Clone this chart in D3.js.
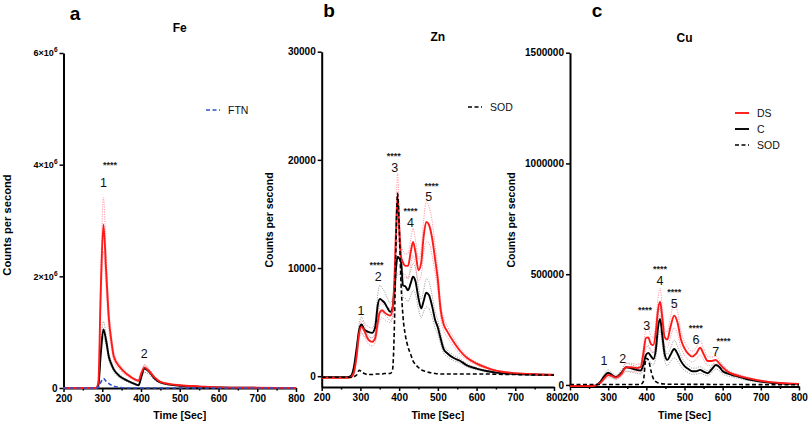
<!DOCTYPE html>
<html><head><meta charset="utf-8">
<script src="https://cdn.jsdelivr.net/npm/d3@7"></script>
<style>
body{margin:0;background:#fff;}
svg{font-family:"Liberation Sans", Arial, sans-serif;}
</style></head><body>
<svg id="chart" width="810" height="425"></svg>
<script>
// ---------- shared ticks ----------
const xTicks = [200, 300, 400, 500, 600, 700, 800];
const xMinorTicks = [250, 350, 450, 550, 650, 750];

// ---------- Panel a : Fe ----------
const timesA = [200,284,290,296,303,310,317,324,330,347,365,385,394,400,409,420,435,450,475,500,550,600,700,800];
const dsA    = [0,0,0.1e6,1.7e6,2.93e6,2.1e6,1.25e6,0.82e6,0.56e6,0.36e6,0.24e6,0.15e6,0.13e6,0.25e6,0.37e6,0.31e6,0.19e6,0.11e6,0.07e6,0.05e6,0.03e6,0.012e6,0.004e6,0];
const dsA_sd = [0,0,0.02e6,0.3e6,0.48e6,0.35e6,0.2e6,0.12e6,0.08e6,0.05e6,0.03e6,0.02e6,0.02e6,0.03e6,0.04e6,0.035e6,0.02e6,0.012e6,0.008e6,0.005e6,0.003e6,0.002e6,0,0];
const cA     = [0,0,0.05e6,0.6e6,1.05e6,0.85e6,0.56e6,0.42e6,0.33e6,0.2e6,0.13e6,0.07e6,0.05e6,0.18e6,0.35e6,0.3e6,0.17e6,0.1e6,0.06e6,0.04e6,0.02e6,0.01e6,0.003e6,0];
const cA_sd  = [0,0,0.01e6,0.1e6,0.14e6,0.1e6,0.07e6,0.05e6,0.04e6,0.03e6,0.02e6,0.01e6,0.01e6,0.03e6,0.07e6,0.05e6,0.03e6,0.015e6,0.01e6,0.005e6,0.003e6,0.002e6,0,0];
const ftnA   = [0,0,0.01e6,0.1e6,0.17e6,0.12e6,0.08e6,0.05e6,0.03e6,0.01e6,0,0,0,0,0,0,0,0,0,0,0,0,0,0];
const yTicksA = [0, 2e6, 4e6, 6e6];
const yTickLabelsA = ["0", "2×10^6", "4×10^6", "6×10^6"];
const annotA = [
  {text:"****", t:320, v:3.94e6, star:true},
  {text:"1", t:303, v:3.6e6},
  {text:"2", t:408.6, v:0.537e6}
];

// ---------- Panel b : Zn ----------
const timesB = [200,265,275,283,290,297,303,310,320,330,338,345,350,356,362,370,377,383,388,392,396,400,405,410,416,423,430,436,442,450,457,463,470,477,485,493,500,507,515,525,540,556,575,600,625,650,700,750,800];
const cB     = [-100,-100,0,800,2500,4300,4780,4300,4100,4000,4500,6600,7150,7000,6800,6300,5950,6300,8000,10000,11040,10900,10500,8400,8300,7950,8600,9190,8800,7200,6260,6900,7710,7500,6500,5200,4500,3500,2500,2100,1700,1450,1000,700,480,330,200,150,120];
const cB_sd  = [0,0,0,100,300,600,700,650,500,450,550,1000,1250,1150,1050,900,800,900,1100,1300,1500,1500,1400,1100,1100,1050,1150,1250,1200,1000,850,950,1300,1250,1000,750,650,500,350,300,250,200,150,100,80,60,40,30,30];
const dsB    = [-150,-150,-100,300,1800,4000,4560,4200,3400,3170,3500,5000,5900,6100,5900,5700,5600,6200,9000,13500,16590,13800,11000,10500,10200,10200,11500,12420,11500,9800,10500,12800,14270,14000,12800,10800,8880,6200,4800,4100,3200,2400,1700,1170,800,520,280,180,130];
const dsB_sd = [0,0,0,80,300,500,600,550,400,380,400,600,700,700,650,650,650,700,1100,1700,2200,1800,1200,1100,1100,1100,1200,1250,1150,1000,1200,1500,1850,1700,1600,1300,1000,700,600,500,400,300,200,150,100,60,40,30,20];
const sodB   = [-100,-100,-100,-50,100,550,400,250,150,150,200,200,200,200,250,250,250,600,5000,12500,16900,14000,8500,5500,3800,2700,2000,1400,1100,800,600,500,420,350,300,250,220,200,200,200,200,200,200,200,200,180,150,120,100];
const yTicksB = [0, 10000, 20000, 30000];
const yTickLabelsB = ["0", "10000", "20000", "30000"];
const annotB = [
  {text:"1", t:301.2, v:5686},
  {text:"****", t:341.6, v:10004, star:true},
  {text:"2", t:345.8, v:8765},
  {text:"****", t:386.2, v:20082, star:true},
  {text:"3", t:388.8, v:18843},
  {text:"****", t:429.2, v:14969, star:true},
  {text:"4", t:429.2, v:13757},
  {text:"****", t:483.3, v:17280, star:true},
  {text:"5", t:476.3, v:16226}
];

// ---------- Panel c : Cu ----------
const timesC = [200,260,270,280,290,300,310,320,335,347,360,375,385,392,399,405,412,418,425,430,436,442,448,455,463,473,482,490,500,510,520,530,541,550,561,572,582,592,600,612,625,640,660,690,720,750,800];
const dsC    = [-5000,-5000,0,10000,30000,45000,40000,33000,50000,80000,80000,76000,80000,140000,212000,215000,185000,180000,240000,330000,376000,300000,215000,205000,260000,313000,280000,210000,165000,140000,128000,140000,168000,140000,108000,108000,113000,95000,80000,62000,50000,42000,33000,22000,14000,9000,4000];
const dsC_sd = [0,0,0,3000,8000,12000,10000,8000,12000,18000,18000,17000,18000,28000,40000,42000,35000,33000,42000,55000,60000,50000,38000,36000,45000,56000,50000,38000,30000,26000,24000,26000,32000,26000,20000,18000,18000,15000,12000,9000,7000,6000,5000,3000,2000,1500,800];
const cC     = [-5000,-5000,0,15000,40000,55000,45000,35000,55000,80000,75000,68000,65000,90000,135000,145000,130000,117000,160000,250000,298000,220000,140000,113000,135000,162000,140000,110000,85000,72000,62000,62000,68000,60000,53000,72000,90000,80000,62000,52000,45000,38000,28000,18000,11000,7000,3000];
const cC_sd  = [0,0,0,4000,10000,14000,11000,9000,13000,18000,17000,15000,15000,20000,30000,33000,30000,27000,34000,45000,50000,42000,30000,26000,30000,40000,32000,25000,19000,16000,14000,14000,15000,13000,12000,15000,18000,16000,13000,11000,9000,8000,6000,4000,2500,1500,700];
const sodC   = [2000,2000,2000,2000,2000,2000,2000,2000,2000,2000,2000,2000,2500,15000,120000,115000,65000,30000,15000,10000,7000,5000,4000,3500,3000,3000,3000,3000,3000,2500,2500,2500,2500,2500,2500,2000,2000,2000,2000,2000,2000,2000,1500,1500,1000,1000,500];
const yTicksC = [0, 500000, 1000000, 1500000];
const yTickLabelsC = ["0", "500000", "1000000", "1500000"];
const annotC = [
  {text:"1", t:289, v:91400},
  {text:"2", t:338, v:99100},
  {text:"****", t:396.5, v:325000, star:true},
  {text:"3", t:401, v:249400},
  {text:"****", t:435.8, v:510000, star:true},
  {text:"4", t:435.8, v:452600},
  {text:"****", t:473.3, v:406000, star:true},
  {text:"5", t:473.3, v:348000},
  {text:"****", t:529.3, v:245000, star:true},
  {text:"6", t:530, v:187000},
  {text:"****", t:602, v:186000, star:true},
  {text:"7", t:582, v:132000}
];

// ---------- styles ----------
const STYLE = {
  DS:  {stroke:"#ff1a1a", width:1.9, dash:null},
  C:   {stroke:"#000", width:1.9, dash:null},
  SOD: {stroke:"#000", width:1.6, dash:"4,2.5"},
  FTN: {stroke:"#2f52c8", width:1.6, dash:"4,2.5"},
  bandDS: {stroke:"#ff8f9c", width:0.9, dash:"1.2,1.2"},
  bandC:  {stroke:"#9a9a9a", width:0.9, dash:"1.2,1.2"}
};

const svg = d3.select("#chart");
const FONT = '"Liberation Sans", Arial, sans-serif';

function drawPanel(p) {
  const x = d3.scaleLinear().domain([200, 800]).range(p.xr);
  const y = d3.scaleLinear().domain(p.yd).range(p.yr);
  const g = svg.append("g");

  // axes
  g.append("g").attr("transform", `translate(0,${p.yr[0]})`)
    .call(d3.axisBottom(x).tickValues(xTicks).tickFormat(d3.format("d")).tickSize(4).tickSizeOuter(0).tickPadding(3));
  g.append("g").attr("transform", `translate(0,${p.yr[0]})`)
    .call(d3.axisBottom(x).tickValues(xMinorTicks).tickFormat("").tickSize(2.5).tickSizeOuter(0))
    .select(".domain").remove();
  const gy = g.append("g").attr("transform", `translate(${p.xr[0]},0)`)
    .call(d3.axisLeft(y).tickValues(p.yt).tickFormat((d, i) => p.ytl[i]).tickSize(4).tickSizeOuter(0).tickPadding(2));
  g.selectAll(".domain").attr("stroke", "#000").attr("stroke-width", 2);
  g.selectAll(".tick line").attr("stroke", "#000").attr("stroke-width", 1.5);
  g.selectAll(".tick text").attr("font-family", FONT).attr("font-weight", "bold")
    .attr("font-size", 10).attr("fill", "#000");
  // superscript exponents
  gy.selectAll(".tick text").each(function () {
    const t = d3.select(this);
    const s = t.text();
    if (s.includes("^")) {
      const [base, ex] = s.split("^");
      t.text(null).attr("font-size", 9);
      t.append("tspan").text(base);
      t.append("tspan").attr("dy", -4).attr("font-size", 6.5).text(ex);
    }
  });

  const lineFor = (vals, times) => d3.line()
    .x((d, i) => x(times[i])).y(d => y(d)).curve(d3.curveMonotoneX)(vals);

  const draw = (vals, st) => {
    g.append("path").attr("d", lineFor(vals, p.times)).attr("fill", "none")
      .attr("stroke", st.stroke).attr("stroke-width", st.width)
      .attr("stroke-dasharray", st.dash).attr("stroke-linejoin", "round");
  };

  // bands
  p.series.forEach(s => {
    if (!s.sd) return;
    const bst = s.key === "DS" ? STYLE.bandDS : STYLE.bandC;
    draw(s.values.map((v, i) => v + s.sd[i]), bst);
    draw(s.values.map((v, i) => v - s.sd[i]), bst);
  });
  // main lines
  p.series.forEach(s => draw(s.values, STYLE[s.key]));

  // annotations
  p.annot.forEach(a => {
    g.append("text").attr("x", x(a.t)).attr("y", y(a.v))
      .attr("text-anchor", "middle").attr("font-family", FONT)
      .attr("font-size", a.star ? 9 : 12.5).attr("font-weight", a.star ? "bold" : "normal")
      .attr("fill", a.star ? "#222" : "#111").text(a.text);
  });

  // titles
  g.append("text").attr("x", p.letterX).attr("y", p.letterY).attr("text-anchor", "middle")
    .attr("font-family", FONT).attr("font-weight", "bold").attr("font-size", 19).text(p.letter);
  g.append("text").attr("x", x(500)).attr("y", p.titleY).attr("text-anchor", "middle")
    .attr("font-family", FONT).attr("font-weight", "bold").attr("font-size", 12).text(p.title);
  g.append("text").attr("x", x(500)).attr("y", 419).attr("text-anchor", "middle")
    .attr("font-family", FONT).attr("font-weight", "bold").attr("font-size", 10.5).text("Time [Sec]");
  g.append("text").attr("transform", `translate(${p.ylabX},${p.ylabY}) rotate(-90)`)
    .attr("text-anchor", "middle").attr("font-family", FONT).attr("font-weight", "bold")
    .attr("font-size", p.ylabSize).text("Counts per second");

  // legend
  p.legend.forEach((l, i) => {
    const ly = p.legY + i * 16;
    const st = STYLE[l];
    g.append("line").attr("x1", p.legX).attr("x2", p.legX + 14).attr("y1", ly).attr("y2", ly)
      .attr("stroke", st.stroke).attr("stroke-width", st.width).attr("stroke-dasharray", st.dash);
    g.append("text").attr("x", p.legX + 22).attr("y", ly + 3.8).attr("font-family", FONT)
      .attr("font-size", 10.5).attr("fill", "#111").text(l);
  });
}

drawPanel({
  xr:[63.5, 296], yd:[0, 6e6], yr:[388, 53], yt:yTicksA, ytl:yTickLabelsA,
  times:timesA,
  series:[{key:"C", values:cA, sd:cA_sd},{key:"DS", values:dsA, sd:dsA_sd},{key:"FTN", values:ftnA}],
  annot:annotA, letter:"a", letterX:75, letterY:20, title:"Fe", titleY:32,
  ylabX:10.5, ylabY:225, ylabSize:11.2,
  legend:["FTN"], legX:206, legY:110
});
drawPanel({
  xr:[321.7, 554], yd:[-1000, 30000], yr:[387, 51.7], yt:yTicksB, ytl:yTickLabelsB,
  times:timesB,
  series:[{key:"C", values:cB, sd:cB_sd},{key:"DS", values:dsB, sd:dsB_sd},{key:"SOD", values:sodB}],
  annot:annotB, letter:"b", letterX:329, letterY:17, title:"Zn", titleY:41,
  ylabX:273, ylabY:220, ylabSize:10.5,
  legend:["SOD"], legX:468, legY:107
});
drawPanel({
  xr:[570, 799], yd:[-7000, 1500000], yr:[386.5, 52.7], yt:yTicksC, ytl:yTickLabelsC,
  times:timesC,
  series:[{key:"C", values:cC, sd:cC_sd},{key:"DS", values:dsC, sd:dsC_sd},{key:"SOD", values:sodC}],
  annot:annotC, letter:"c", letterX:597, letterY:17, title:"Cu", titleY:42,
  ylabX:514.5, ylabY:220, ylabSize:10.5,
  legend:["DS","C","SOD"], legX:735, legY:113
});
</script>
</body></html>
